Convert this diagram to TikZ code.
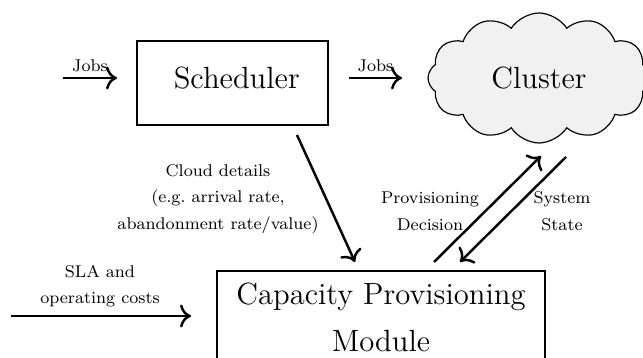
\documentclass[tikz,border=0pt]{standalone}
\usetikzlibrary{shapes.symbols,arrows.meta}
\begin{document}
\begin{tikzpicture}[x=0.4695pt,y=-0.4695pt,
  conn/.style={-{To[scale=1.25]},line width=1.15pt},
  lbl/.style={font=\footnotesize,align=center},
  bigbox/.style={draw,line width=0.55pt,font=\Large},
]
\useasboundingbox (0,0) rectangle (643,358);
\clip (0,0) rectangle (643,358);
% Scheduler
\node[bigbox,minimum width=191*0.4695pt,minimum height=84*0.4695pt] (sched) at (232.5,83) {\hspace*{4pt}Scheduler\raisebox{0pt}[0pt][5pt]{}};
% Cluster cloud
\node[cloud,draw,fill=gray!11,line width=0.55pt,cloud puffs=12,cloud puff arc=115,aspect=1.7,
  minimum width=222*0.4695pt,minimum height=130*0.4695pt,font=\Large] (cluster) at (539,78) {Cluster};
% Capacity Provisioning Module
\draw[line width=0.55pt] (217,400) -- (217,271) -- (545,271) -- (545,400);
\node[font=\Large,align=center] (cpm) at (381,317) {Capacity Provisioning\\[4pt]Module};
% coordinates
\coordinate (j1s) at (63,78);
\coordinate (j1e) at (117,78);
\coordinate (j2s) at (349,78);
\coordinate (j2e) at (402,78);
\coordinate (cds) at (297,135);
\coordinate (cde) at (355,262);
\coordinate (slas) at (11,316);
\coordinate (slae) at (191,316);
\coordinate (pds) at (434,262);
\coordinate (pde) at (541,156);
\coordinate (sss) at (566,157);
\coordinate (sse) at (460,262);
% connectors
\draw[conn] (j1s) -- (j1e) node[pos=0.5,above=-1pt,font=\footnotesize] (jl1) {Jobs};
\draw[conn] (j2s) -- (j2e) node[pos=0.5,above=-1pt,font=\footnotesize] (jl2) {Jobs};
\draw[conn] (cds) -- (cde);
\draw[conn] (slas) -- (slae);
\draw[conn] (pds) -- (pde);
\draw[conn] (sss) -- (sse);
% labels
\node[lbl] (cdl) at (218,199) {Cloud details\\[3pt](e.g.\ arrival rate,\\[3pt]abandonment rate/value)};
\node[lbl] (slal) at (100,286) {SLA and\\[3pt]operating costs};
\node[lbl] (pdl) at (430,211) {Provisioning\\[3pt]Decision};
\node[lbl] (ssl) at (562,211) {System\\[3pt]State};
\end{tikzpicture}
\end{document}
